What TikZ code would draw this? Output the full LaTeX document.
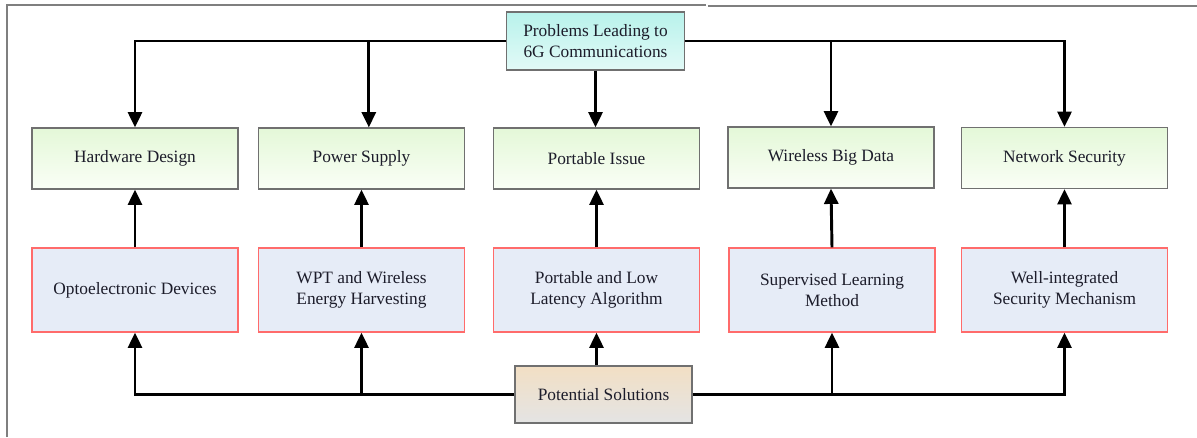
\documentclass[tikz,border=0pt]{standalone}
\usepackage{fontspec}
\setmainfont{Liberation Serif}
\newfontfamily\figfont{Liberation Serif}
\usetikzlibrary{arrows.meta}
\definecolor{probtop}{HTML}{B8F2EB}
\definecolor{probbot}{HTML}{E2FAF7}
\definecolor{isstop}{HTML}{E4F8D8}
\definecolor{issbot}{HTML}{FAFEF6}
\definecolor{solfill}{HTML}{E6ECF7}
\definecolor{solline}{HTML}{FF6B6B}
\definecolor{pottop}{HTML}{F2DFC4}
\definecolor{potbot}{HTML}{E4E4E4}
\definecolor{frameline}{HTML}{7F7F7F}
\definecolor{boxline}{HTML}{707070}
\definecolor{txt}{HTML}{1C1C2A}

\begin{document}
\begin{tikzpicture}[x=0.75pt, y=-0.75pt,
    every node/.style={font=\figfont\fontsize{13}{15.5}\selectfont, text=txt, align=center, inner sep=0pt},
    probbox/.style={draw=boxline, line width=0.9pt, top color=probtop, bottom color=probbot,
        minimum width=134pt, minimum height=43.5pt},
    issuebox/.style={draw=boxline, line width=0.9pt, top color=isstop, bottom color=issbot,
        minimum width=154.5pt, minimum height=45.75pt},
    solbox/.style={draw=solline, line width=0.9pt, fill=solfill,
        minimum width=154.5pt, minimum height=63pt},
    potbox/.style={draw=boxline, line width=0.9pt, top color=pottop, bottom color=potbot,
        minimum width=132.75pt, minimum height=42.75pt},
    conn/.style={line width=2.2pt, -{Triangle[width=10.5pt, length=11.5pt]}},
    frame/.style={draw=frameline, line width=1.1pt}]
\useasboundingbox (0,0) rectangle (1197,437);

\draw[frame] (7,437) -- (7,5) -- (706,5);
\draw[frame] (708,6) -- (1197,6);

\node[probbox] (prob) at (595.5,41) {Problems Leading to\\6G Communications};

% problems
\node[issuebox] (hw) at (135,158.5) {Hardware Design};
\node[issuebox] (pw) at (361.5,158.5) {Power Supply};
\node[issuebox] (pi) at (596.5,158.5) {Portable Issue};
\node[issuebox] (bd) at (831,157.5) {Wireless Big Data};
\node[issuebox] (ns) at (1064.5,158) {Network Security};

% solutions
\node[solbox] (od) at (135,290) {Optoelectronic Devices};
\node[solbox] (wpt) at (361.5,290) {WPT and Wireless\\Energy Harvesting};
\node[solbox] (pl) at (596.5,290) {Portable and Low\\Latency Algorithm};
\node[solbox] (sl) at (832,290) {Supervised Learning\\Method};
\node[solbox] (ws) at (1064.5,290) {Well-integrated\\Security Mechanism};

\node[potbox] (pot) at (603.5,394.5) {Potential Solutions};

\draw[conn] (prob.west) -| (hw.north);
\draw[conn] (prob.west -| hw.north) -| ([xshift=5.5pt]pw.north);
\draw[conn] (prob.south) -- (prob.south |- pi.north);
\draw[conn] (prob.east) -| (bd.north);
\draw[conn] (prob.east -| bd.north) -| (ns.north);

\foreach \s/\t in {od/hw, wpt/pw, pl/pi, sl/bd, ws/ns}
    \draw[conn] (\s.north) -- (\t.south);

\draw[conn] (pot.west) -| (od.south);
\draw[conn] (pot.west -| wpt.south) -- (wpt.south);
\draw[conn] (pot.north -| pl.south) -- (pl.south);
\draw[conn] (pot.east) -| (ws.south);
\draw[conn] (pot.east -| sl.south) -- (sl.south);
\end{tikzpicture}
\end{document}
